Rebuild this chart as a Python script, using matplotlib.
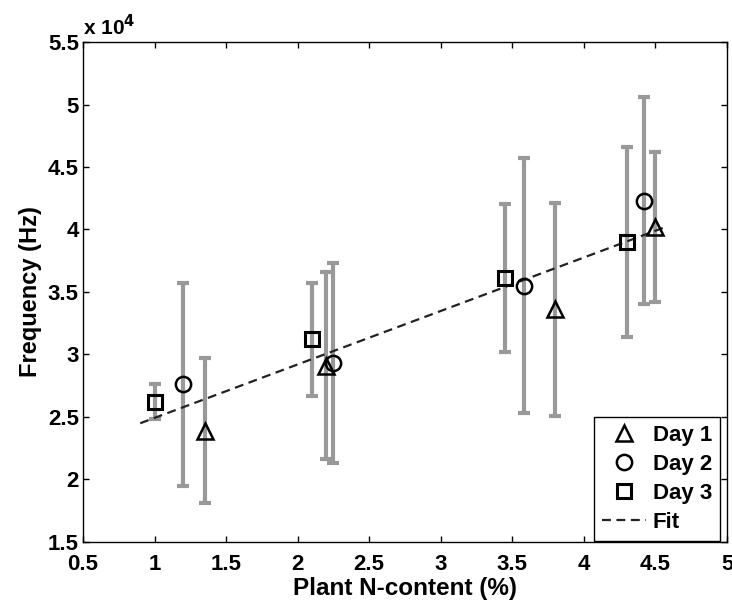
import numpy as np
import matplotlib.pyplot as plt

plt.rcParams['font.family'] = ['Liberation Sans', 'DejaVu Sans']
plt.rcParams['font.weight'] = 'bold'

# values in Hz
day1_x = [1.35, 2.20, 3.80, 4.50]
day1_y = [2.39e4, 2.91e4, 3.36e4, 4.02e4]
day1_err = [0.58e4, 0.75e4, 0.85e4, 0.60e4]

day2_x = [1.20, 2.25, 3.58, 4.42]
day2_y = [2.76e4, 2.93e4, 3.55e4, 4.23e4]
day2_err = [0.81e4, 0.80e4, 1.02e4, 0.83e4]

day3_x = [1.00, 2.10, 3.45, 4.30]
day3_y = [2.62e4, 3.12e4, 3.61e4, 3.90e4]
day3_err = [0.14e4, 0.455e4, 0.59e4, 0.76e4]

fit_x = [0.90, 4.57]
fit_y = [2.45e4, 4.02e4]

fig = plt.figure(figsize=(7.32, 6.07), dpi=100)
ax = fig.add_axes([0.1134, 0.1071, 0.8798, 0.8237])

gray = '#999999'
for x, y, e in [(day1_x, day1_y, day1_err), (day2_x, day2_y, day2_err), (day3_x, day3_y, day3_err)]:
    ax.errorbar(x, y, yerr=e, fmt='none', ecolor=gray, elinewidth=3, capsize=4, capthick=3, zorder=1)

fit_line, = ax.plot(fit_x, fit_y, '--', color='#222222', lw=1.6, dashes=(4, 2.5), zorder=2)
m1, = ax.plot(day1_x, day1_y, '^', ms=11, mfc='none', mec='black', mew=1.8, ls='none', zorder=3)
m2, = ax.plot(day2_x, day2_y, 'o', ms=11, mfc='none', mec='black', mew=1.8, ls='none', zorder=3)
m3, = ax.plot(day3_x, day3_y, 's', ms=10, mfc='none', mec='black', mew=2.2, ls='none', zorder=3)

leg = ax.legend([m1, m2, m3, fit_line], ['Day 1', 'Day 2', 'Day 3', 'Fit'], loc='lower right',
                fontsize=16, frameon=True, fancybox=False, edgecolor='black', framealpha=1,
                handlelength=2.0, handletextpad=0.3, borderaxespad=0.0, labelspacing=0.36,
                borderpad=0.35, bbox_to_anchor=(0.989, 0.002))
leg.get_frame().set_linewidth(1.0)

ax.set_xlim(0.5, 5)
ax.set_ylim(1.5e4, 5.5e4)
xt = np.arange(0.5, 5.01, 0.5)
yt = np.arange(1.5e4, 5.51e4, 0.5e4)
ax.set_xticks(xt)
ax.set_xticklabels(['%g' % v for v in xt])
ax.set_yticks(yt)
ax.set_yticklabels(['%g' % (v / 1e4) for v in yt])
ax.tick_params(direction='in', top=True, right=True, length=4, labelsize=16, width=1)
ax.tick_params(axis='x', pad=9)
ax.tick_params(axis='y', pad=3)
for s in ax.spines.values():
    s.set_linewidth(1.0)

ax.text(0.0, 1.005, r'x 10$^{\mathbf{4}}$', transform=ax.transAxes, fontsize=15, fontweight='bold',
        ha='left', va='bottom')

ax.set_xlabel('Plant N-content (%)', fontsize=17.5, fontweight='bold', labelpad=1)
ax.set_ylabel('Frequency (Hz)', fontsize=17, fontweight='bold', labelpad=4)

fig.savefig('out.png', dpi=100)
